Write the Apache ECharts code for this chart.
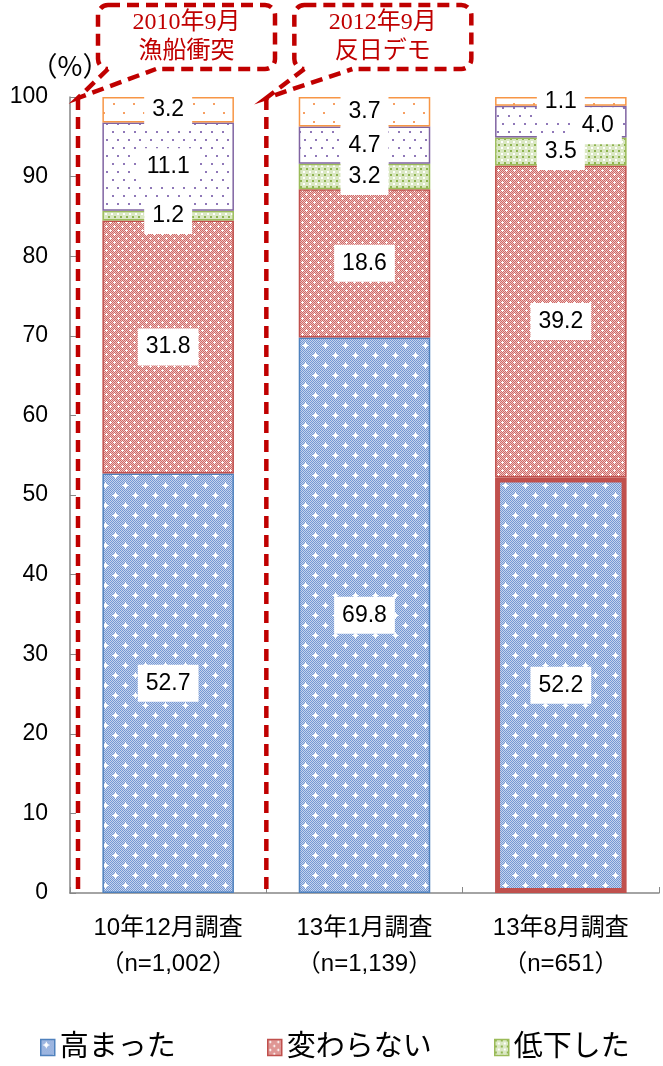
<!DOCTYPE html>
<html>
<head>
<meta charset="utf-8">
<script src="https://cdn.jsdelivr.net/npm/echarts@6/dist/echarts.min.js"></script>
<style>
  html, body { margin: 0; padding: 0; background: #fff; }
  #chart { width: 663px; height: 1066px; }
</style>
</head>
<body>
<div id="chart"></div>
<script>
// Survey rounds and sample sizes
const surveys = ['10年12月調査', '13年1月調査', '13年8月調査'];
const sampleSizes = ['（n=1,002）', '（n=1,139）', '（n=651）'];

// Answer shares (%), bottom to top of each stacked bar
const rose      = [52.7, 69.8, 52.2];   // 高まった
const unchanged = [31.8, 18.6, 39.2];   // 変わらない
const fell      = [1.2, 3.2, 3.5];      // 低下した
const unknown   = [11.1, 4.7, 4.0];     // わからない
const noAnswer  = [3.2, 3.7, 1.1];      // 無回答

const yTicks = { min: 0, max: 100, interval: 10 };

// Event callouts drawn over the chart
const events = [
  { year: '2010年9月', title: '漁船衝突' },
  { year: '2012年9月', title: '反日デモ' }
];

const SANS = "'Liberation Sans', 'Noto Sans CJK JP', sans-serif";
const SERIF = "'Liberation Serif', 'Noto Sans CJK JP', serif";
const RED = '#C00000';

// Small repeating tiles used as bar fills
function tile(w, h, bg, draw) {
  const c = document.createElement('canvas');
  c.width = w; c.height = h;
  const ctx = c.getContext('2d');
  ctx.fillStyle = bg;
  ctx.fillRect(0, 0, w, h);
  draw(ctx);
  return { image: c, repeat: 'repeat' };
}
function sparkle(ctx, x, y) {
  ctx.fillStyle = '#ffffff';
  ctx.fillRect(x - 1, y - 1, 3, 3);
  ctx.fillRect(x - 3, y, 7, 1);
  ctx.fillRect(x, y - 3, 1, 7);
}

const blueFill = tile(20, 20, '#c4d3ee', ctx => {
  ctx.fillStyle = '#7598d2';
  for (let y = 0; y < 20; y++)
    for (let x = 0; x < 20; x++)
      if ((x + y) % 2 === 0) ctx.fillRect(x, y, 1, 1);
  sparkle(ctx, 5, 5);
  sparkle(ctx, 15, 15);
});
const redFill = tile(8, 8, '#efc3c2', ctx => {
  ctx.fillStyle = '#cf6a67';
  for (let y = 0; y < 8; y++)
    for (let x = 0; x < 8; x++)
      if ((x + y) % 2 === 0) ctx.fillRect(x, y, 1, 1);
  ctx.fillStyle = '#ffffff';
  [[2, 2], [6, 6]].forEach(([x, y]) => {
    ctx.fillRect(x - 1, y, 3, 1);
    ctx.fillRect(x, y - 1, 1, 3);
  });
});
const greenFill = tile(6, 6, '#dbe8c4', ctx => {
  ctx.fillStyle = '#8fb450';
  ctx.fillRect(0, 0, 2, 2);
  ctx.fillStyle = '#ffffff';
  ctx.fillRect(3, 3, 2, 2);
});
const purpleFill = tile(11, 16, '#ffffff', ctx => {
  ctx.fillStyle = '#8f78b8';
  ctx.fillRect(2, 3, 2, 2);
  ctx.fillRect(7, 11, 2, 2);
});
const orangeFill = tile(20, 18, '#ffffff', ctx => {
  ctx.fillStyle = '#f7a064';
  ctx.fillRect(3, 4, 2, 2);
  ctx.fillRect(13, 13, 2, 2);
});

const labelStyle = {
  show: true,
  position: 'inside',
  formatter: p => Number(p.value).toFixed(1),
  color: '#000',
  fontSize: 23,
  fontFamily: SANS,
  backgroundColor: '#ffffff',
  padding: [7, 8]
};

function seriesOf(name, values, fill, border, extra) {
  return {
    name: name,
    type: 'bar',
    stack: 'total',
    barCategoryGap: '33%',
    data: values.map((v, i) => (extra && extra[i]) ? Object.assign({ value: v }, extra[i]) : v),
    itemStyle: { color: fill, borderColor: border, borderWidth: 1.5 },
    label: labelStyle,
    emphasis: { disabled: true }
  };
}

const chart = echarts.init(document.getElementById('chart'), null, { renderer: 'canvas' });

function legendAt(left, name, fill, border) {
  return {
    left: left, top: 1028,
    itemWidth: 14, itemHeight: 16,
    selectedMode: false,
    icon: 'rect',
    data: [{ name: name, itemStyle: { color: fill, borderColor: border, borderWidth: 1.5 } }],
    textStyle: { fontSize: 29, color: '#000', fontFamily: SANS }
  };
}

chart.setOption({
  animation: false,
  backgroundColor: '#ffffff',
  grid: { left: 70, right: 4, top: 97, bottom: 173 },
  legend: [
    legendAt(35, '高まった', blueFill, '#4F81BD'),
    legendAt(262, '変わらない', redFill, '#C0504D'),
    legendAt(489, '低下した', greenFill, '#9BBB59')
  ],
  xAxis: {
    type: 'category',
    data: surveys.map((s, i) => s + '\n' + sampleSizes[i]),
    axisLine: { lineStyle: { color: '#868686', width: 1.5 } },
    axisTick: { show: true, inside: true, length: 6, alignWithLabel: false, lineStyle: { color: '#868686' } },
    axisLabel: { color: '#000', fontSize: 24, fontFamily: SANS, lineHeight: 36, margin: 17 }
  },
  yAxis: {
    type: 'value',
    min: yTicks.min, max: yTicks.max, interval: yTicks.interval,
    name: '（%）',
    nameLocation: 'end',
    nameGap: 18,
    nameTextStyle: {
      color: '#000', fontSize: 27,
      fontFamily: "'Noto Sans CJK JP', sans-serif",
      align: 'center', padding: [0, 0, 0, 0]
    },
    splitLine: { show: false },
    axisLine: { show: true, lineStyle: { color: '#868686', width: 1.5 } },
    axisTick: { show: true, inside: true, length: 6, lineStyle: { color: '#868686' } },
    axisLabel: { color: '#000', fontSize: 23, fontFamily: SANS, margin: 22 }
  },
  series: [
    seriesOf('高まった', rose, blueFill, '#4F81BD',
      [null, null, { itemStyle: { borderColor: '#C0504D', borderWidth: 5 } }]),
    seriesOf('変わらない', unchanged, redFill, '#C0504D'),
    seriesOf('低下した', fell, greenFill, '#9BBB59'),
    seriesOf('わからない', unknown, purpleFill, '#8064A2',
      [null, null, { label: { offset: [37, 4] } }]),
    seriesOf('無回答', noAnswer, orangeFill, '#F79646')
  ]
});

// Dashed event markers: vertical lines at the survey boundaries plus callout boxes
function drawEvents() {
  const c0 = chart.convertToPixel({ xAxisIndex: 0 }, 0);
  const c1 = chart.convertToPixel({ xAxisIndex: 0 }, 1);
  const band = c1 - c0;
  const yTop = chart.convertToPixel({ yAxisIndex: 0 }, 100) + 1;
  const yBot = chart.convertToPixel({ yAxisIndex: 0 }, 0) - 2;
  const lineXs = [c0 - band / 2 + 8, c0 + band / 2];
  const boxOffsets = [20, 28];
  const dash = { stroke: RED, lineWidth: 4.5, lineDash: [12, 7], fill: null };
  const graphics = [];

  lineXs.forEach((x, i) => {
    const bx = x + boxOffsets[i];
    const by = 5, bw = 177, bh = 64;
    graphics.push({
      type: 'line', z: 100,
      shape: { x1: x, y1: yTop, x2: x, y2: yBot },
      style: dash
    });
    graphics.push({
      type: 'rect', z: 100,
      shape: { x: bx, y: by, width: bw, height: bh, r: 10 },
      style: Object.assign({}, dash, { fill: '#ffffff' })
    });
    // gap in the box edge where the pointer joins
    graphics.push({
      type: 'rect', z: 101,
      shape: { x: bx + 10, y: by + bh - 4, width: 50, height: 8 },
      style: { fill: '#ffffff' }
    });
    graphics.push({
      type: 'polyline', z: 102,
      shape: { points: [[bx + 10, by + bh], [x, yTop], [bx + 58, by + bh]] },
      style: dash
    });
    graphics.push({
      type: 'text', z: 103,
      style: {
        x: bx + bw / 2, y: by + 18,
        text: events[i].year,
        fill: RED, font: '24px ' + SERIF,
        textAlign: 'center', textVerticalAlign: 'middle'
      }
    });
    graphics.push({
      type: 'text', z: 103,
      style: {
        x: bx + bw / 2, y: by + 46,
        text: events[i].title,
        fill: RED, font: '24px ' + SANS,
        textAlign: 'center', textVerticalAlign: 'middle'
      }
    });
  });
  chart.setOption({ graphic: graphics });
}
drawEvents();
</script>
</body>
</html>
